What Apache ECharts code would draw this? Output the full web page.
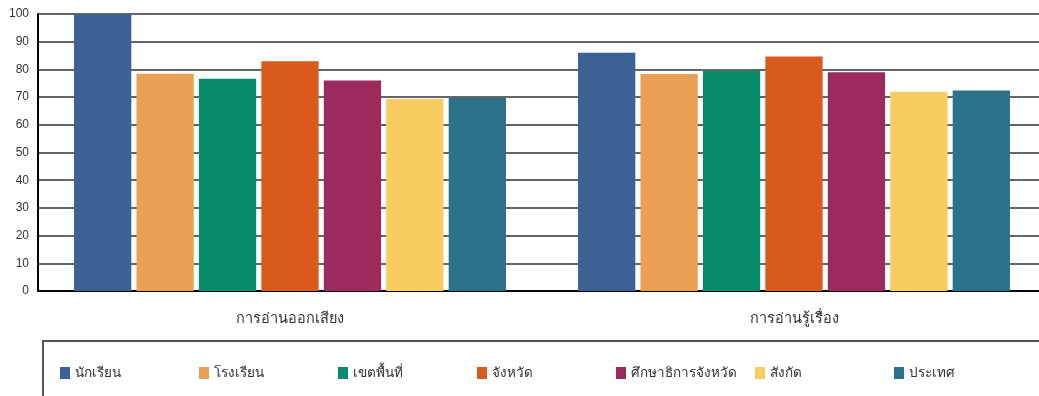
<!DOCTYPE html>
<html>
<head>
<meta charset="utf-8">
<script src="https://cdn.jsdelivr.net/npm/echarts@6/dist/echarts.min.js"></script>
<style>
html,body{margin:0;padding:0;background:#fff;}
#c{width:1039px;height:396px;}
</style>
</head>
<body>
<div id="c"></div>
<script>
const categories = ['การอ่านออกเสียง', 'การอ่านรู้เรื่อง'];
const seriesNames = ['นักเรียน', 'โรงเรียน', 'เขตพื้นที่', 'จังหวัด', 'ศึกษาธิการจังหวัด', 'สังกัด', 'ประเทศ'];
const student = [100, 86];
const school = [78.4, 78.3];
const area = [76.6, 79.5];
const province = [82.9, 84.7];
const provEdu = [76, 79];
const affiliation = [69.3, 71.9];
const country = [69.7, 72.4];
const yTicks = [0, 10, 20, 30, 40, 50, 60, 70, 80, 90, 100];
const colors = ['#3B6196', '#E9A052', '#088B6A', '#D95A1D', '#9B2B5F', '#F8CC5E', '#2A7189'];

const seriesData = [student, school, area, province, provEdu, affiliation, country];
const font = '"Liberation Sans", Arial, "Noto Sans", sans-serif';

const chart = echarts.init(document.getElementById('c'), null, {renderer: 'canvas'});
chart.setOption({
  animation: false,
  color: colors,
  textStyle: {fontFamily: font},
  grid: {left: 38, top: 14, height: 277, width: 1008, outerBoundsMode: 'none'},
  legend: seriesNames.map((n, i) => ({
    data: [n],
    left: 55 + i * 139,
    top: 361,
    itemWidth: 10,
    itemHeight: 12,
    icon: 'rect',
    textStyle: {color: '#333', fontSize: 13.5}
  })),
  xAxis: {
    type: 'category',
    data: categories,
    axisLine: {lineStyle: {color: '#000', width: 2}},
    axisTick: {show: false},
    axisLabel: {color: '#333', fontSize: 14.5, margin: 20}
  },
  yAxis: {
    type: 'value',
    min: 0,
    max: 100,
    interval: 10,
    axisLine: {show: true, lineStyle: {color: '#000', width: 2}},
    axisTick: {show: false},
    axisLabel: {color: '#333', fontSize: 12, margin: 9,
      formatter: v => yTicks.includes(v) ? String(v) : ''},
    splitLine: {lineStyle: {color: '#333', width: 1.6}}
  },
  graphic: [{
    type: 'rect',
    shape: {x: 43, y: 341, width: 1010, height: 70},
    style: {fill: 'none', stroke: '#555', lineWidth: 2},
    z: -1
  }],
  series: seriesNames.map((n, i) => ({
    name: n,
    type: 'bar',
    data: seriesData[i],
    barCategoryGap: '14.3%',
    barGap: '9%',
    itemStyle: {color: colors[i]}
  }))
});
</script>
</body>
</html>
